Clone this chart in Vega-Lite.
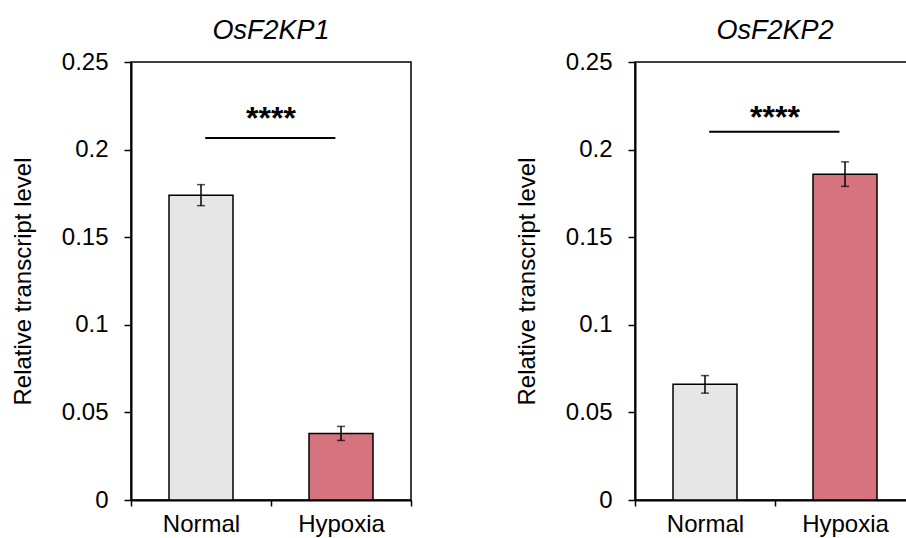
{
  "$schema": "https://vega.github.io/schema/vega-lite/v6.json",
  "background": "white",
  "padding": {"left": 10, "top": 16, "right": 0, "bottom": 0},
  "spacing": 101,
  "datasets": {
    "bars": [
      {"gene": "OsF2KP1", "condition": "Normal", "mean": 0.174, "lo": 0.168, "hi": 0.180},
      {"gene": "OsF2KP1", "condition": "Hypoxia", "mean": 0.038, "lo": 0.034, "hi": 0.042},
      {"gene": "OsF2KP2", "condition": "Normal", "mean": 0.066, "lo": 0.061, "hi": 0.071},
      {"gene": "OsF2KP2", "condition": "Hypoxia", "mean": 0.186, "lo": 0.179, "hi": 0.193}
    ],
    "sig": [
      {"gene": "OsF2KP1", "from": "Normal", "to": "Hypoxia", "y": 0.2066, "ystar": 0.2115, "label": "****"},
      {"gene": "OsF2KP2", "from": "Normal", "to": "Hypoxia", "y": 0.2102, "ystar": 0.2125, "label": "****"}
    ]
  },
  "hconcat": [
    {
      "width": 280,
      "height": 438,
      "title": {"text": "OsF2KP1", "fontStyle": "italic", "fontSize": 27, "fontWeight": "normal", "frame": "group", "offset": 5, "font": "Liberation Sans", "color": "black"},
      "layer": [
        {
          "data": {"name": "bars"},
          "transform": [{"filter": "datum.gene === 'OsF2KP1'"}],
          "mark": {"type": "bar", "width": {"band": 0.457}, "stroke": "black", "strokeWidth": 1.5},
          "encoding": {
            "x": {"field": "condition", "type": "nominal", "title": null, "sort": ["Normal", "Hypoxia"], "scale": {"domain": ["Normal", "Hypoxia"], "paddingInner": 0, "paddingOuter": 0}},
            "y": {"field": "mean", "type": "quantitative", "title": "Relative transcript level", "scale": {"domain": [0, 0.25], "nice": false}, "axis": {"values": [0, 0.05, 0.1, 0.15, 0.2, 0.25], "format": "~g"}},
            "color": {"field": "condition", "type": "nominal", "scale": {"domain": ["Normal", "Hypoxia"], "range": ["#e6e6e6", "#d5737e"]}, "legend": null}
          }
        },
        {
          "data": {"name": "bars"},
          "transform": [{"filter": "datum.gene === 'OsF2KP1'"}],
          "mark": {"type": "rule", "strokeWidth": 1.5, "color": "black"},
          "encoding": {
            "x": {"field": "condition", "type": "nominal", "title": null},
            "y": {"field": "lo", "type": "quantitative", "title": "Relative transcript level"},
            "y2": {"field": "hi"}
          }
        },
        {
          "data": {"name": "bars"},
          "transform": [{"filter": "datum.gene === 'OsF2KP1'"}],
          "mark": {"type": "tick", "size": 8, "thickness": 1.5, "color": "black"},
          "encoding": {
            "x": {"field": "condition", "type": "nominal", "title": null},
            "y": {"field": "lo", "type": "quantitative", "title": "Relative transcript level"}
          }
        },
        {
          "data": {"name": "bars"},
          "transform": [{"filter": "datum.gene === 'OsF2KP1'"}],
          "mark": {"type": "tick", "size": 8, "thickness": 1.5, "color": "black"},
          "encoding": {
            "x": {"field": "condition", "type": "nominal", "title": null},
            "y": {"field": "hi", "type": "quantitative", "title": "Relative transcript level"}
          }
        },
        {
          "data": {"name": "sig"},
          "transform": [{"filter": "datum.gene === 'OsF2KP1'"}],
          "mark": {"type": "rule", "strokeWidth": 2, "color": "black"},
          "encoding": {
            "x": {"field": "from", "type": "nominal", "title": null, "bandPosition": 0.53},
            "x2": {"field": "to", "bandPosition": 0.46},
            "y": {"field": "y", "type": "quantitative", "title": "Relative transcript level"}
          }
        },
        {
          "data": {"name": "sig"},
          "transform": [{"filter": "datum.gene === 'OsF2KP1'"}],
          "mark": {"type": "text", "fontSize": 32, "fontWeight": "bold", "baseline": "alphabetic", "align": "center", "font": "Liberation Sans", "color": "black"},
          "encoding": {
            "x": {"field": "to", "type": "nominal", "title": null, "bandPosition": 0},
            "y": {"field": "ystar", "type": "quantitative", "title": "Relative transcript level"},
            "text": {"field": "label"}
          }
        }
      ]
    },
    {
      "width": 280,
      "height": 438,
      "title": {"text": "OsF2KP2", "fontStyle": "italic", "fontSize": 27, "fontWeight": "normal", "frame": "group", "offset": 5, "font": "Liberation Sans", "color": "black"},
      "layer": [
        {
          "data": {"name": "bars"},
          "transform": [{"filter": "datum.gene === 'OsF2KP2'"}],
          "mark": {"type": "bar", "width": {"band": 0.457}, "stroke": "black", "strokeWidth": 1.5},
          "encoding": {
            "x": {"field": "condition", "type": "nominal", "title": null, "sort": ["Normal", "Hypoxia"], "scale": {"domain": ["Normal", "Hypoxia"], "paddingInner": 0, "paddingOuter": 0}},
            "y": {"field": "mean", "type": "quantitative", "title": "Relative transcript level", "scale": {"domain": [0, 0.25], "nice": false}, "axis": {"values": [0, 0.05, 0.1, 0.15, 0.2, 0.25], "format": "~g"}},
            "color": {"field": "condition", "type": "nominal", "scale": {"domain": ["Normal", "Hypoxia"], "range": ["#e6e6e6", "#d5737e"]}, "legend": null}
          }
        },
        {
          "data": {"name": "bars"},
          "transform": [{"filter": "datum.gene === 'OsF2KP2'"}],
          "mark": {"type": "rule", "strokeWidth": 1.5, "color": "black"},
          "encoding": {
            "x": {"field": "condition", "type": "nominal", "title": null},
            "y": {"field": "lo", "type": "quantitative", "title": "Relative transcript level"},
            "y2": {"field": "hi"}
          }
        },
        {
          "data": {"name": "bars"},
          "transform": [{"filter": "datum.gene === 'OsF2KP2'"}],
          "mark": {"type": "tick", "size": 8, "thickness": 1.5, "color": "black"},
          "encoding": {
            "x": {"field": "condition", "type": "nominal", "title": null},
            "y": {"field": "lo", "type": "quantitative", "title": "Relative transcript level"}
          }
        },
        {
          "data": {"name": "bars"},
          "transform": [{"filter": "datum.gene === 'OsF2KP2'"}],
          "mark": {"type": "tick", "size": 8, "thickness": 1.5, "color": "black"},
          "encoding": {
            "x": {"field": "condition", "type": "nominal", "title": null},
            "y": {"field": "hi", "type": "quantitative", "title": "Relative transcript level"}
          }
        },
        {
          "data": {"name": "sig"},
          "transform": [{"filter": "datum.gene === 'OsF2KP2'"}],
          "mark": {"type": "rule", "strokeWidth": 2, "color": "black"},
          "encoding": {
            "x": {"field": "from", "type": "nominal", "title": null, "bandPosition": 0.53},
            "x2": {"field": "to", "bandPosition": 0.46},
            "y": {"field": "y", "type": "quantitative", "title": "Relative transcript level"}
          }
        },
        {
          "data": {"name": "sig"},
          "transform": [{"filter": "datum.gene === 'OsF2KP2'"}],
          "mark": {"type": "text", "fontSize": 32, "fontWeight": "bold", "baseline": "alphabetic", "align": "center", "font": "Liberation Sans", "color": "black"},
          "encoding": {
            "x": {"field": "to", "type": "nominal", "title": null, "bandPosition": 0},
            "y": {"field": "ystar", "type": "quantitative", "title": "Relative transcript level"},
            "text": {"field": "label"}
          }
        }
      ]
    }
  ],
  "config": {
    "font": "Liberation Sans",
    "view": {"stroke": "black", "strokeWidth": 1.5},
    "axis": {"domainColor": "black", "domainWidth": 2, "tickColor": "black", "tickWidth": 1.5, "labelColor": "black", "titleColor": "black", "labelFont": "Liberation Sans", "titleFont": "Liberation Sans", "labelFontSize": 24, "titleFontSize": 24, "titleFontWeight": "normal", "grid": false},
    "axisY": {"tickSize": 7, "labelPadding": 16, "titlePadding": 26},
    "axisX": {"tickSize": 6, "labelPadding": 6, "labelAngle": 0, "tickBand": "extent"}
  }
}
